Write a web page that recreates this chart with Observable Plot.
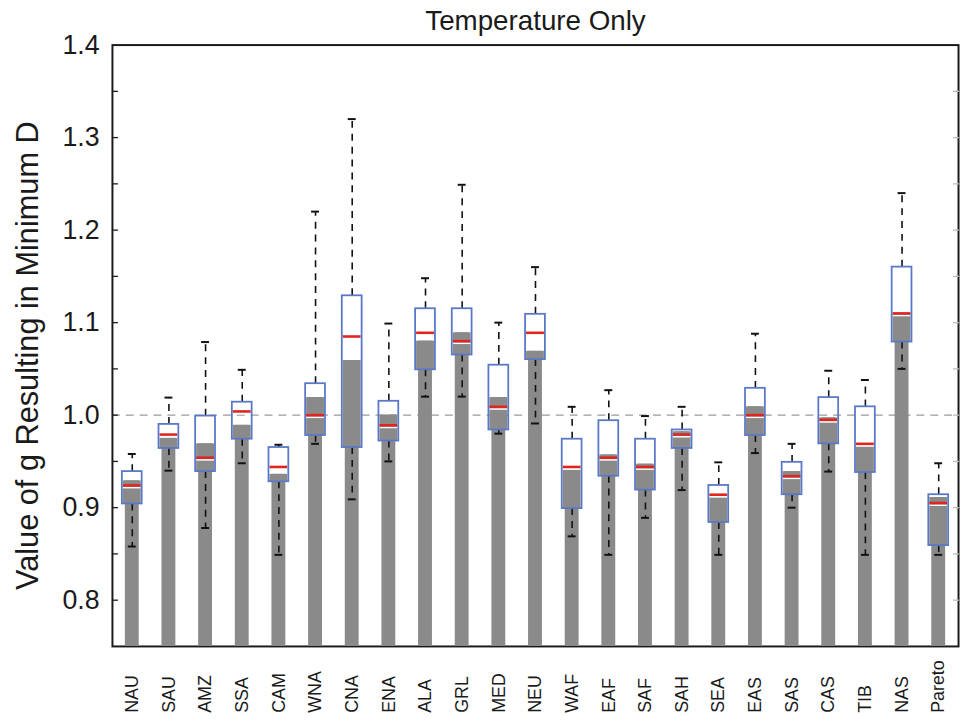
<!DOCTYPE html>
<html>
<head>
<meta charset="utf-8">
<script src="https://cdn.jsdelivr.net/npm/d3@7"></script>
<script src="https://cdn.jsdelivr.net/npm/@observablehq/plot@0.6"></script>
<style>
  html, body { margin: 0; padding: 0; background: #fff; overflow: hidden; width: 961px; height: 724px; }
  #chart svg { display: block; background: #fff; }
</style>
</head>
<body>
<div id="chart"></div>
<script>
// ---- data ----
const categories = ["NAU","SAU","AMZ","SSA","CAM","WNA","CNA","ENA","ALA","GRL","MED","NEU","WAF","EAF","SAF","SAH","SEA","EAS","SAS","CAS","TIB","NAS","Pareto"];
const upperCap = [0.958,1.019,1.079,1.049,0.968,1.220,1.320,1.099,1.148,1.249,1.100,1.160,1.009,1.027,0.999,1.009,0.949,1.088,0.969,1.048,1.038,1.240,0.948];
const q3       = [0.939,0.990,0.999,1.014,0.965,1.034,1.129,1.015,1.115,1.115,1.054,1.109,0.974,0.994,0.974,0.984,0.924,1.029,0.949,1.019,1.009,1.160,0.914];
const median   = [0.924,0.979,0.954,1.004,0.944,1.000,1.085,0.989,1.089,1.080,1.009,1.089,0.944,0.954,0.944,0.979,0.914,1.000,0.934,0.995,0.969,1.110,0.905];
const q1       = [0.904,0.964,0.939,0.974,0.928,0.978,0.965,0.972,1.049,1.065,0.984,1.060,0.899,0.934,0.919,0.964,0.884,0.978,0.914,0.969,0.938,1.079,0.859];
const lowerCap = [0.858,0.940,0.878,0.948,0.849,0.969,0.909,0.950,1.020,1.020,0.980,0.991,0.869,0.849,0.889,0.919,0.849,0.959,0.900,0.939,0.849,1.050,0.849];
const barTop   = [0.929,0.975,0.969,0.989,0.936,1.019,1.059,1.000,1.080,1.089,1.019,1.069,0.941,0.957,0.947,0.982,0.911,1.009,0.939,0.997,0.966,1.109,0.911];
const yDomain = [0.75, 1.4];
const yTickLabels = [0.8, 0.9, 1.0, 1.1, 1.2, 1.3, 1.4];
const yMinorTicks = [0.8, 0.85, 0.9, 0.95, 1.0, 1.05, 1.1, 1.15, 1.2, 1.25, 1.3, 1.35];
const referenceValue = 1.0;
const title = "Temperature Only";
const yLabel = "Value of g Resulting in Minimum D";

// ---- table built from the arrays ----
const rows = categories.map((c, i) => ({
  cat: c, up: upperCap[i], q3: q3[i], med: median[i], q1: q1[i], low: lowerCap[i], bar: barTop[i]
}));

const blue = "#5a78c8";
const gray = "#8a8a8a";

const chart = Plot.plot({
  width: 970,
  height: 724,
  marginLeft: 113,
  marginRight: 3,
  marginTop: 45,
  marginBottom: 72,
  style: { fontFamily: "'Liberation Sans', Arial, Helvetica, sans-serif", background: "#fff", color: "#1a1a1a" },
  x: { type: "band", domain: categories, paddingInner: 0.61, paddingOuter: 0.312, axis: null },
  y: { domain: yDomain, axis: null },
  marks: [
    Plot.ruleY([referenceValue], { stroke: "#9a9a9a", strokeWidth: 1.4, strokeDasharray: "8,6" }),
    Plot.frame({ stroke: "#1a1a1a", strokeWidth: 2 }),
    // gray bars
    Plot.barY(rows, { x: "cat", y1: yDomain[0], y2: "bar", fill: gray }),
    // gray part inside the box (box-wide)
    Plot.barY(rows, { x: "cat", y1: "q1", y2: d => Math.min(d.bar, d.q3), fill: gray, insetLeft: -2, insetRight: -2 }),
    // whiskers
    Plot.ruleX(rows, { x: "cat", y1: "q3", y2: "up", stroke: "#111", strokeWidth: 1.6, strokeDasharray: "7,6" }),
    Plot.ruleX(rows, { x: "cat", y1: "q1", y2: "low", stroke: "#111", strokeWidth: 1.6, strokeDasharray: "7,6" }),
    // whisker caps
    Plot.tickY(rows, { x: "cat", y: "up", stroke: "#111", strokeWidth: 2, insetLeft: 3, insetRight: 3 }),
    Plot.tickY(rows, { x: "cat", y: "low", stroke: "#111", strokeWidth: 2, insetLeft: 3, insetRight: 3 }),
    // median
    Plot.tickY(rows, { x: "cat", y: "med", stroke: "#ffffff", strokeWidth: 1.5, dy: 2.2, insetLeft: -2, insetRight: -2 }),
    Plot.tickY(rows, { x: "cat", y: "med", stroke: "#e0241e", strokeWidth: 2.6, insetLeft: -2, insetRight: -2 }),
    // box outline
    Plot.barY(rows, { x: "cat", y1: "q1", y2: "q3", fill: "none", stroke: blue, strokeWidth: 1.8, insetLeft: -3, insetRight: -3 }),
    // y axis: labels and inward minor ticks
    Plot.axisY(yTickLabels, { anchor: "left", tickSize: 0, tickPadding: 13, fontSize: 27, tickFormat: d => d.toFixed(1) }),
    Plot.axisY(yMinorTicks, { anchor: "left", tickSize: 6, dx: 6, tickFormat: () => "", strokeWidth: 1.3 }),
    Plot.axisY(yMinorTicks, { anchor: "right", tickSize: 6, dx: -6, tickFormat: () => "", strokeWidth: 1.3, stroke: "#bbb" }),
    // x category labels
    Plot.text(categories, { x: d => d, frameAnchor: "bottom", dy: 67, rotate: -90, textAnchor: "start", lineAnchor: "middle", fontSize: 18, fill: "#1a1a1a" }),
    // title and y label
    Plot.text([title], { frameAnchor: "top", dy: -35, fontSize: 28, textAnchor: "middle", fill: "#1a1a1a" }),
    Plot.text([yLabel], { frameAnchor: "left", dx: -85, dy: 10, rotate: -90, textAnchor: "middle", lineAnchor: "middle", fontSize: 31, fill: "#1a1a1a" })
  ]
});
document.getElementById("chart").appendChild(chart);
</script>
</body>
</html>
